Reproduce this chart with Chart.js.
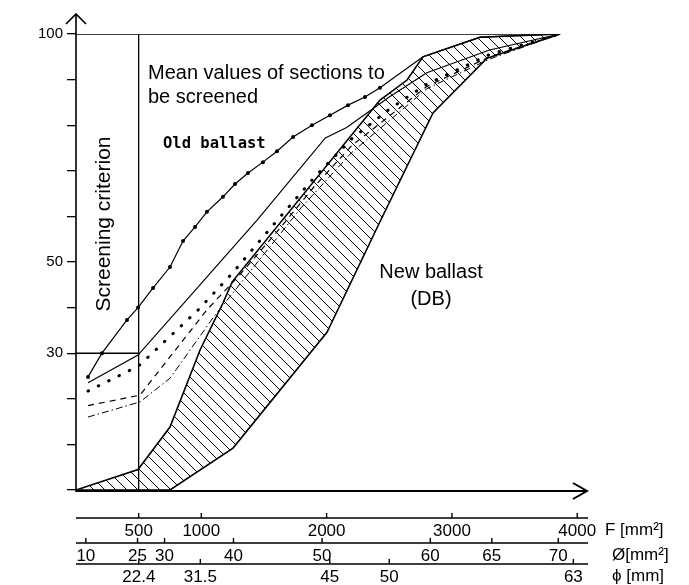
<!DOCTYPE html>
<html>
<head>
<meta charset="utf-8">
<script src="https://cdn.jsdelivr.net/npm/chart.js@4.4.0/dist/chart.umd.min.js"></script>
<style>
body{margin:0;background:#fff}
</style>
</head>
<body>
<canvas id="grafico" width="689" height="585"></canvas>
<script>
// x = F [mm2] (sieve area), y = passing in %
const oldBallastF = [96,207,407,495,615,750,854,950,1045,1173,1269,1373,1492,1604,1732,1883,2027,2171,2306,2426,2769,3224,3863]
const oldBallastP = [24.8,30,37.3,40,44.3,48.9,54.6,57.7,61,64.3,67.1,69.5,71.9,74.3,77.4,80,82.2,84.4,86.2,88.2,95,99.3,100]

const solidF = [96,495,1445,1990,2160,2500,2800,3300,3863]
const solidP = [23.5,29.6,59.2,77.2,79.5,86.2,91.5,96.5,100]

const dottedF = [96,500,975,1250,1570,1900,2200,2500,2800,3300,3863]
const dottedP = [21.7,27.2,39.5,47.6,58,68.5,77,83.5,89,95.5,100]

const dashedF = [96,510,1045,1300,1600,1900,2200,2500,2800,3300,3863]
const dashedP = [18.5,20.8,39.5,47,56.5,66.5,75.5,82,88.5,95,100]

const dashDotF = [96,510,750,1100,1450,1800,2200,2500,2800,3300,3863]
const dashDotP = [16,19.3,24.5,38,50,62,74,81,88,94.5,100]

// new ballast (DB) band
const bandTopF = [0,495,750,990,1173,1245,2426,2642,2769,3224,3863]
const bandTopP = [0,4.5,13.8,30.7,41,45.6,85.5,89.9,95,99.3,100]
const bandLowF = [0,750,1253,2003,2420,2849,3280,3863]
const bandLowP = [0,0,9.2,34.6,58.5,82.7,94.7,100]

// screening criterion
const criterionF = 500
const criterionP = 30
const endF = 3863

// axis labels
const yLabels = [100,50,30]
const fTicks = [500,1000,2000,3000,4000]
const dTicks = [10,25,30,40,50,60,65,70]   // F = pi/4 * d^2
const pTicks = [22.4,31.5,45,50,63]        // F = d^2

function pts(xs, ys){
  return xs.map((x,i) => ({x:x, y:ys[i]}))
}

function hatch(){
  const c = document.createElement('canvas')
  c.width = 11
  c.height = 11
  const g = c.getContext('2d')
  g.strokeStyle = '#000'
  g.lineWidth = 1
  g.beginPath()
  g.moveTo(-2,-2)
  g.lineTo(13,13)
  g.stroke()
  return g.createPattern(c,'repeat')
}

function linha(data, extra){
  return Object.assign({
    data: data,
    showLine: true,
    borderColor: '#000',
    borderWidth: 1.2,
    pointRadius: 0,
    fill: false
  }, extra || {})
}

const sans = '"Liberation Sans", Arial, sans-serif'

const desenho = {
  id: 'desenho',
  afterDraw(chart){
    const ctx = chart.ctx
    const x = chart.scales.x
    const a = chart.chartArea
    ctx.save()
    ctx.strokeStyle = '#000'
    ctx.fillStyle = '#000'

    // y axis with arrow
    ctx.lineWidth = 1.6
    ctx.beginPath()
    ctx.moveTo(a.left, a.bottom + 2)
    ctx.lineTo(a.left, 14)
    ctx.moveTo(a.left - 10, 24)
    ctx.lineTo(a.left, 14)
    ctx.lineTo(a.left + 10, 24)
    ctx.stroke()

    // x axis with arrow
    ctx.lineWidth = 2
    ctx.beginPath()
    ctx.moveTo(a.left, a.bottom + 1)
    ctx.lineTo(a.right + 2, a.bottom + 1)
    ctx.moveTo(a.right - 12, a.bottom - 7)
    ctx.lineTo(a.right + 2, a.bottom + 1)
    ctx.lineTo(a.right - 12, a.bottom + 9)
    ctx.stroke()

    // the three scales below the chart
    const rows = [
      {ticks: fTicks, pos: v => v, y: 518, unit: 'F [mm\u00B2]', ux: 605},
      {ticks: dTicks, pos: v => Math.PI / 4 * v * v, y: 543, unit: '\u00D8[mm\u00B2]', ux: 612},
      {ticks: pTicks, pos: v => v * v, y: 564, unit: '\u03D5 [mm]', ux: 612}
    ]
    ctx.font = '17px ' + sans
    ctx.lineWidth = 1.4
    rows.forEach(r => {
      ctx.beginPath()
      ctx.moveTo(a.left, r.y)
      ctx.lineTo(a.right + 3, r.y)
      r.ticks.forEach(t => {
        const px = x.getPixelForValue(r.pos(t))
        ctx.moveTo(px, r.y)
        ctx.lineTo(px, r.y - 5)
      })
      ctx.stroke()
      ctx.textAlign = 'center'
      ctx.textBaseline = 'middle'
      r.ticks.forEach(t => {
        ctx.fillText(String(t), x.getPixelForValue(r.pos(t)), r.y + 13)
      })
      ctx.textAlign = 'left'
      ctx.fillText(r.unit, r.ux, r.y + 12)
    })

    // annotations
    ctx.font = '20px ' + sans
    ctx.textAlign = 'left'
    ctx.textBaseline = 'middle'
    ctx.fillText('Mean values of sections to', 148, 73)
    ctx.fillText('be screened', 148, 97)
    ctx.textAlign = 'center'
    ctx.fillText('New ballast', 431, 272)
    ctx.fillText('(DB)', 431, 299)

    ctx.font = 'bold 15.5px "DejaVu Sans Mono", monospace'
    ctx.textAlign = 'left'
    ctx.fillText('Old ballast', 163, 144)

    ctx.save()
    ctx.translate(104, 224)
    ctx.rotate(-Math.PI / 2)
    ctx.font = '21px ' + sans
    ctx.textAlign = 'center'
    ctx.fillText('Screening criterion', 0, 0)
    ctx.restore()

    ctx.restore()
  }
}

const grafico = new Chart(document.getElementById('grafico'), {
  type: 'scatter',
  data: {
    datasets: [
      linha(pts(oldBallastF, oldBallastP), {
        pointRadius: oldBallastF.map((v,i) => i < 20 ? 2 : 0),
        pointBackgroundColor: '#000',
        pointBorderWidth: 0
      }),
      linha(pts(solidF, solidP)),
      linha(pts(dottedF, dottedP), {borderDash: [0.5,11], borderWidth: 3, borderCapStyle: 'round'}),
      linha(pts(dashedF, dashedP), {borderDash: [6,5]}),
      linha(pts(dashDotF, dashDotP), {borderDash: [7,3,1.5,3], borderWidth: 1}),
      // screening box
      linha([{x:criterionF, y:-2}, {x:criterionF, y:100}], {borderWidth: 1.3}),
      linha([{x:0, y:criterionP}, {x:criterionF, y:criterionP}], {borderWidth: 1.6}),
      linha([{x:0, y:100}, {x:endF, y:100}], {borderWidth: 1.6}),
      // hatched band
      linha(pts(bandTopF, bandTopP), {borderWidth: 1.6, fill: '+1', backgroundColor: hatch()}),
      linha(pts(bandLowF, bandLowP), {borderWidth: 1.6})
    ]
  },
  options: {
    responsive: false,
    animation: false,
    devicePixelRatio: 1,
    layout: {padding: {left: 0, top: 34, right: 104, bottom: 95}},
    plugins: {legend: {display: false}, tooltip: {enabled: false}},
    scales: {
      x: {type: 'linear', min: 0, max: 4062, display: false},
      y: {
        min: 0,
        max: 100,
        afterFit(scale){ scale.width = 76 },
        afterBuildTicks(scale){
          const t = []
          for (let v = 0; v <= 100; v += 10) t.push({value: v})
          scale.ticks = t
        },
        ticks: {
          color: '#000',
          font: {size: 15, family: sans},
          padding: 4,
          callback: v => yLabels.includes(v) ? String(v) : ''
        },
        grid: {drawOnChartArea: false, drawTicks: true, tickLength: 9, color: '#000', lineWidth: 1.3},
        border: {display: false}
      }
    }
  },
  plugins: [desenho]
})
</script>
</body>
</html>
